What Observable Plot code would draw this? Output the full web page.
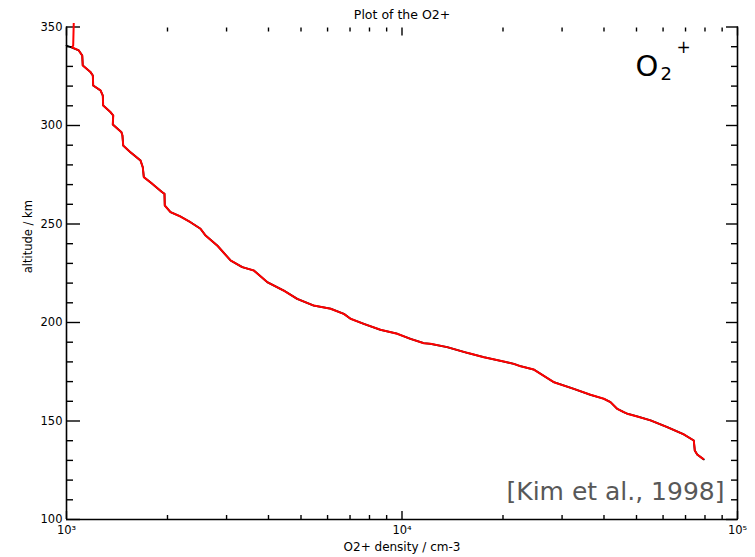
<!DOCTYPE html>
<html>
<head>
<meta charset="utf-8">
<script src="https://cdn.jsdelivr.net/npm/d3@7"></script>
<script src="https://cdn.jsdelivr.net/npm/@observablehq/plot@0.6"></script>
<style>
  html, body { margin: 0; padding: 0; background: #fff; }
  #chart svg { display: block; }
</style>
</head>
<body>
<div id="chart"></div>
<script>
// ---- data ----
const densityRed = [1051, 1047, 1040, 1088, 1114, 1118, 1179, 1198, 1201, 1263, 1283, 1286, 1352, 1378, 1374, 1458, 1468, 1476, 1551, 1662, 1688, 1700, 1801, 1929, 1959, 1963, 2042, 2187, 2342, 2508, 2596, 2813, 3083, 3341, 3617, 3965, 4443, 4871, 5459, 6123, 6708, 7024, 7694, 8628, 9674, 10601, 11613, 12159, 13634, 15643, 17534, 20111, 21544, 22557, 24714, 28352, 32522, 36465, 39947, 41825, 43792, 45822, 46904, 50241, 55051, 61744, 69183, 74084, 74594, 75832, 79352];
const altitudeRed = [352.0, 340.6, 339.7, 338.1, 335.5, 330.5, 327.1, 325.4, 320.3, 317.8, 315.2, 310.2, 306.8, 305.1, 300.5, 296.6, 294.9, 289.8, 286.4, 282.2, 278.8, 273.8, 270.4, 266.1, 265.3, 259.4, 256.0, 253.8, 250.9, 247.6, 244.2, 239.1, 231.5, 228.1, 226.4, 220.5, 216.2, 212.0, 208.6, 207.0, 204.4, 201.9, 199.3, 196.3, 194.3, 191.7, 189.5, 189.2, 187.5, 184.6, 182.4, 180.2, 179.0, 177.8, 176.1, 169.7, 166.3, 163.3, 161.3, 159.6, 156.2, 154.5, 153.7, 152.3, 150.3, 146.9, 143.2, 140.1, 135.0, 133.0, 130.5];

const densityBlack = [1000, 1088, 1114, 1118, 1179, 1198, 1201, 1263, 1283, 1286, 1352, 1378, 1374, 1458, 1468, 1476, 1551, 1662, 1688, 1700, 1801, 1929, 1959, 1963, 2042, 2187, 2342, 2508, 2596, 2813, 3083, 3341, 3617, 3965, 4443, 4871, 5459, 6123, 6708, 7024, 7694, 8628, 9674, 10601, 11613, 12159, 13634, 15643, 17534, 20111, 21544, 22557, 24714, 28352, 32522, 36465, 39947, 41825, 43792, 45822, 46904, 50241, 55051, 61744, 69183, 74084, 74594, 75832, 79352];
const altitudeBlack = [340.6, 338.1, 335.5, 330.5, 327.1, 325.4, 320.3, 317.8, 315.2, 310.2, 306.8, 305.1, 300.5, 296.6, 294.9, 289.8, 286.4, 282.2, 278.8, 273.8, 270.4, 266.1, 265.3, 259.4, 256.0, 253.8, 250.9, 247.6, 244.2, 239.1, 231.5, 228.1, 226.4, 220.5, 216.2, 212.0, 208.6, 207.0, 204.4, 201.9, 199.3, 196.3, 194.3, 191.7, 189.5, 189.2, 187.5, 184.6, 182.4, 180.2, 179.0, 177.8, 176.1, 169.7, 166.3, 163.3, 161.3, 159.6, 156.2, 154.5, 153.7, 152.3, 150.3, 146.9, 143.2, 140.1, 135.0, 133.0, 130.5];

const yMajorTicks = [100, 150, 200, 250, 300, 350];
const yMinorTicks = [110, 120, 130, 140, 160, 170, 180, 190, 210, 220, 230, 240, 260, 270, 280, 290, 310, 320, 330, 340];
const xMajorTicks = [1000, 10000, 100000];
const xMinorTicks = [2000, 3000, 4000, 5000, 6000, 7000, 8000, 9000, 20000, 30000, 40000, 50000, 60000, 70000, 80000, 90000];
const xTickLabels = ["10³", "10⁴", "10⁵"];
const xDomain = [1000, 100000];
const yDomain = [100, 350];

const titleText = "Plot of the O2+";
const xLabelText = "O2+ density / cm-3";
const yLabelText = "altitude / km";
const speciesBase = "O";
const speciesSub = "2";
const speciesSup = "+";
const citationText = "[Kim et al., 1998]";

// ---- build tables ----
const redData = densityRed.map((d, i) => ({density: d, altitude: altitudeRed[i]}));
const blackData = densityBlack.map((d, i) => ({density: d, altitude: altitudeBlack[i]}));

const font = "DejaVu Sans";
const axisStyle = {fontFamily: font, fontSize: 11.5};

const chart = Plot.plot({
  width: 755,
  height: 557,
  marginLeft: 66,
  marginRight: 18,
  marginTop: 26.5,
  marginBottom: 38,
  style: {fontFamily: font, fontSize: "11px", background: "#fff", color: "#000", overflow: "visible"},
  x: {type: "log", domain: xDomain},
  y: {domain: yDomain},
  marks: [
    // frame lines (left, right, bottom)
    Plot.ruleX([xDomain[0], xDomain[1]], {stroke: "#000", strokeWidth: 1.6}),
    Plot.ruleY([yDomain[0]], {stroke: "#000", strokeWidth: 1.6}),

    // left axis ticks (inward)
    Plot.axisY(yMajorTicks, {anchor: "left", tickSize: -14, fill: "none", label: null, strokeWidth: 1.4}),
    Plot.axisY(yMinorTicks, {anchor: "left", tickSize: -7, fill: "none", label: null, strokeWidth: 1.4}),
    // right axis ticks (inward)
    Plot.axisY(yMajorTicks, {anchor: "right", tickSize: -12, fill: "none", label: null, strokeWidth: 1.4}),
    Plot.axisY(yMinorTicks, {anchor: "right", tickSize: -7, fill: "none", label: null, strokeWidth: 1.4}),
    // bottom axis ticks (inward)
    Plot.axisX(xMajorTicks, {anchor: "bottom", tickSize: -8, fill: "none", label: null, strokeWidth: 1.4}),
    Plot.axisX(xMinorTicks, {anchor: "bottom", tickSize: -4, fill: "none", label: null, strokeWidth: 1.4}),
    // top axis ticks (inward)
    Plot.axisX(xMajorTicks, {anchor: "top", tickSize: -8, fill: "none", label: null, strokeWidth: 1.4}),
    Plot.axisX(xMinorTicks, {anchor: "top", tickSize: -4, fill: "none", label: null, strokeWidth: 1.4}),

    // tick labels
    Plot.axisY(yMajorTicks, {anchor: "left", tickSize: 0, tickPadding: 4, label: null, ...axisStyle}),
    Plot.axisX(xMajorTicks, {anchor: "bottom", tickSize: 0, tickPadding: 6, label: null, ...axisStyle,
      tickFormat: d => xTickLabels[xMajorTicks.indexOf(d)]}),

    // curves
    Plot.line(blackData, {x: "density", y: "altitude", stroke: "#000", strokeWidth: 1.8, strokeLinejoin: "round"}),
    Plot.line(redData, {x: "density", y: "altitude", stroke: "#ff0000", strokeWidth: 2, strokeLinejoin: "round", strokeLinecap: "butt"}),

    // title and axis labels
    Plot.text([titleText], {text: d => d, frameAnchor: "top", dy: -17, fontSize: 12.5, fontFamily: font, letterSpacing: 1, fill: "#000"}),
    Plot.text([xLabelText], {text: d => d, frameAnchor: "bottom", dy: 31, fontSize: 12, fontFamily: font, letterSpacing: 0.8, fill: "#000"}),
    Plot.text([yLabelText], {text: d => d, frameAnchor: "left", dx: -38, rotate: -90, fontSize: 11.5, fontFamily: font, letterSpacing: 0.6, fill: "#000"}),

    // species label O2+
    Plot.text([speciesBase], {text: d => d, frameAnchor: "top-right", textAnchor: "start", dx: -102, dy: 28, fontSize: 29, fontFamily: font, fill: "#000"}),
    Plot.text([speciesSub], {text: d => d, frameAnchor: "top-right", textAnchor: "start", dx: -77, dy: 40, fontSize: 18, fontFamily: font, fill: "#000"}),
    Plot.text([speciesSup], {text: d => d, frameAnchor: "top-right", textAnchor: "middle", dx: -54, dy: 14, fontSize: 17, fontFamily: font, fill: "#000"}),

    // citation
    Plot.text([citationText], {text: d => d, frameAnchor: "bottom-right", textAnchor: "end", dx: -13, dy: -20, fontSize: 25, fontFamily: font, fill: "#585858"})
  ]
});

document.getElementById("chart").appendChild(chart);
</script>
</body>
</html>
